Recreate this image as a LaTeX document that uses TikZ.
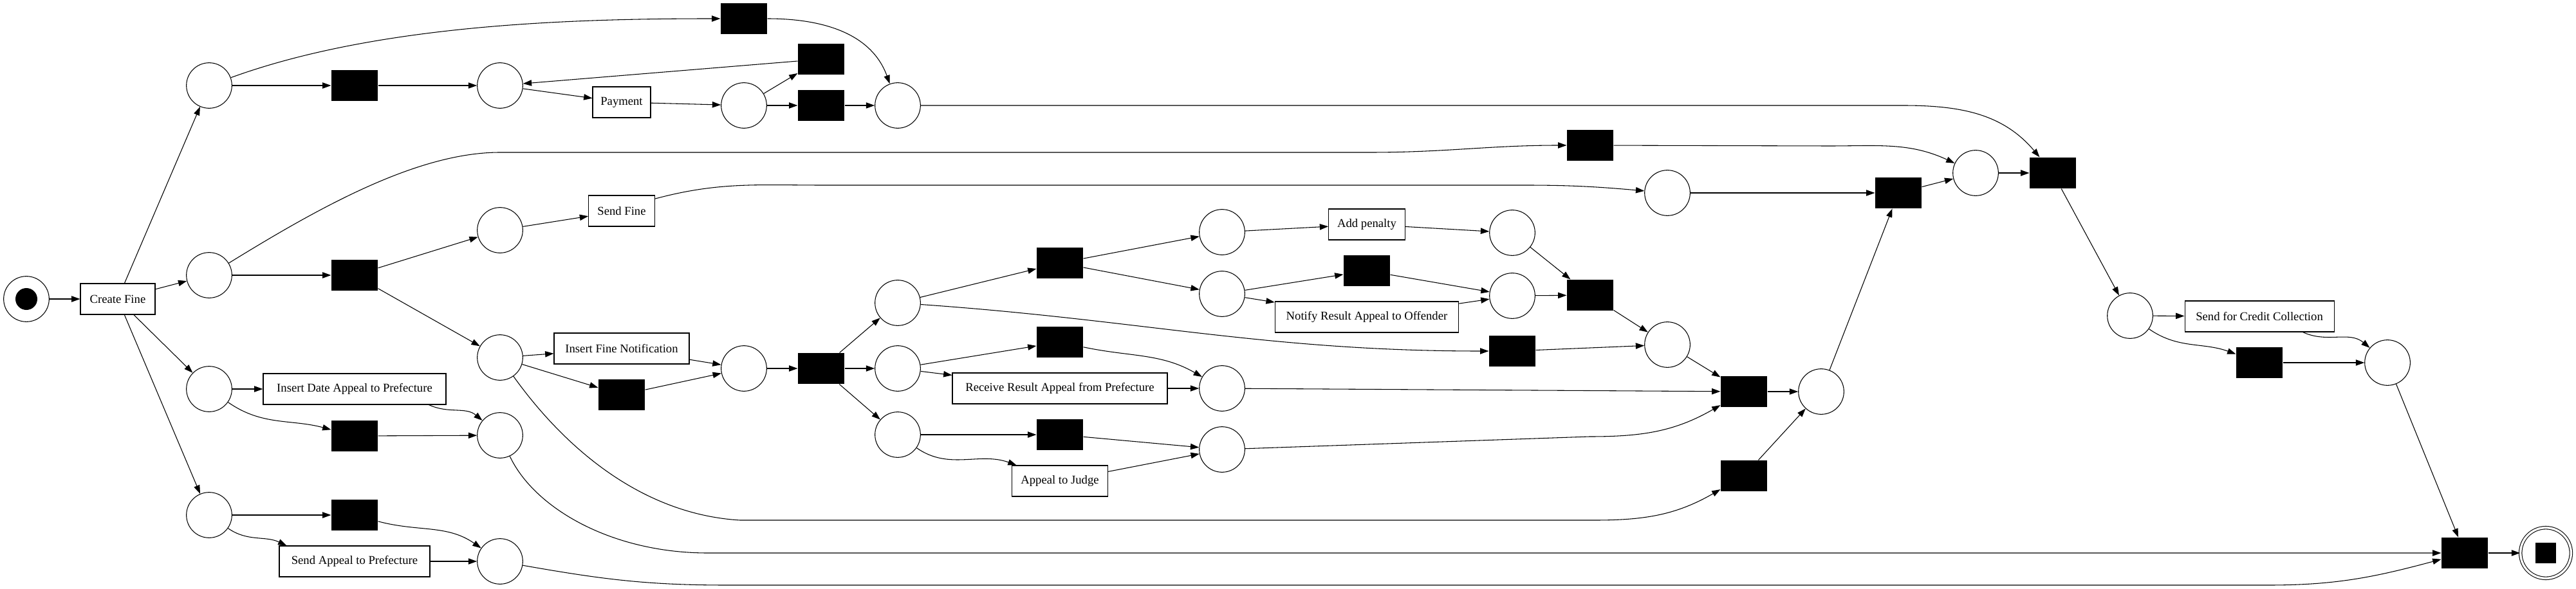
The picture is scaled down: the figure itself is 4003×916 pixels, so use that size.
\documentclass[tikz,border=0pt]{standalone}
\usepackage{fontspec}
\setmainfont{Liberation Serif}
\usetikzlibrary{arrows.meta}

\begin{document}
\begin{tikzpicture}[
    x=0.75pt, y=0.75pt,
    line width=0.8pt,
    font=\fontsize{14pt}{16pt}\selectfont,
    place/.style={circle, draw, minimum size=53pt, inner sep=0pt},
    startplace/.style={place, path picture={\fill (path picture bounding box.center) circle (12.75pt);}},
    endplace/.style={circle, draw, double, double distance=2.5pt, minimum size=59pt, inner sep=0pt,
        path picture={\fill (path picture bounding box.center) ++(-12pt,-12pt) rectangle ++(24pt,24pt);}},
    silent/.style={rectangle, fill=black, minimum width=54pt, minimum height=36pt, inner sep=0pt},
    task/.style={rectangle, draw, minimum height=36pt, inner sep=0pt},
    arrow/.style={-{Triangle[length=10pt,width=7pt]}}
]
\useasboundingbox (0,0) rectangle (4003,-916);

% Start and end
\node[startplace] (start) at (41,-465) {};
\node[endplace] (end) at (3956,-860) {};

% Tasks
\node[task, minimum width=87pt] (create_fine) at (183,-465) {Create Fine};
\node[task, minimum width=67.5pt] (payment) at (966,-159) {Payment};
\node[task, minimum width=77pt] (send_fine) at (966,-328) {Send Fine};
\node[task, minimum width=157.5pt] (insert_notification) at (966,-542) {Insert Fine Notification};
\node[task, minimum width=213pt] (insert_date) at (551,-605) {Insert Date Appeal to Prefecture};
\node[task, minimum width=175.5pt] (send_appeal) at (551,-873) {Send Appeal to Prefecture};
\node[task, minimum width=250.5pt] (receive_result) at (1647,-604) {Receive Result Appeal from Prefecture};
\node[task, minimum width=112pt] (appeal_judge) at (1647,-748) {Appeal to Judge};
\node[task, minimum width=89pt] (add_penalty) at (2124,-349) {Add penalty};
\node[task, minimum width=214pt] (notify_result) at (2124,-493) {Notify Result Appeal to Offender};
\node[task, minimum width=174pt] (credit_collection) at (3511,-492) {Send for Credit Collection};

% Places
\node[place] (p1) at (325,-133) {};
\node[place] (p2) at (325,-428) {};
\node[place] (p3) at (325,-605) {};
\node[place] (p4) at (325,-801) {};
\node[place] (p5) at (777,-133) {};
\node[place] (p6) at (777,-358) {};
\node[place] (p7) at (777,-556) {};
\node[place] (p8) at (777,-677) {};
\node[place] (p9) at (777,-873) {};
\node[place] (p10) at (1156,-164) {};
\node[place] (p11) at (1156,-573) {};
\node[place] (p12) at (1395,-164) {};
\node[place] (p13) at (1395,-471) {};
\node[place] (p14) at (1395,-573) {};
\node[place] (p15) at (1395,-676) {};
\node[place] (p16) at (1899,-361) {};
\node[place] (p17) at (1899,-457) {};
\node[place] (p18) at (1899,-604) {};
\node[place] (p19) at (1899,-699) {};
\node[place] (p20) at (2350,-362) {};
\node[place] (p21) at (2350,-460) {};
\node[place] (p22) at (2591,-300) {};
\node[place] (p23) at (2591,-536) {};
\node[place] (p24) at (2830,-609) {};
\node[place] (p25) at (3070,-269) {};
\node[place] (p26) at (3310,-491) {};
\node[place] (p27) at (3710,-564) {};

% Silent transitions
\node[silent] (tau1) at (551,-133) {};
\node[silent] (tau2) at (551,-428) {};
\node[silent] (tau3) at (551,-678) {};
\node[silent] (tau4) at (551,-801) {};
\node[silent] (tau5) at (966,-614) {};
\node[silent] (tau6) at (1156,-29) {};
\node[silent] (tau7) at (1276,-92) {};
\node[silent] (tau8) at (1276,-164) {};
\node[silent] (tau9) at (1276,-573) {};
\node[silent] (tau10) at (1647,-409) {};
\node[silent] (tau11) at (1647,-532) {};
\node[silent] (tau12) at (1647,-676) {};
\node[silent] (tau13) at (2124,-421) {};
\node[silent] (tau14) at (2350,-546) {};
\node[silent] (tau15) at (2471,-226) {};
\node[silent] (tau16) at (2471,-459) {};
\node[silent] (tau17) at (2710,-609) {};
\node[silent] (tau18) at (2710,-740) {};
\node[silent] (tau19) at (2950,-300) {};
\node[silent] (tau20) at (3190,-269) {};
\node[silent] (tau21) at (3511,-564) {};
\node[silent] (tau22) at (3830,-860) {};

% Arrows - Create Fine
\draw[arrow] (start) -- (create_fine);
\draw[arrow] (create_fine) -- (p1);
\draw[arrow] (create_fine) -- (p2);
\draw[arrow] (create_fine) -- (p3);
\draw[arrow] (create_fine) -- (p4);

% Arrows - Payment branch
\draw[arrow] (p1) -- (tau1);
\draw[arrow] (tau1) -- (p5);
\draw[arrow] (p1) to[out=20,in=180,looseness=0.8] (tau6);
\draw[arrow] (tau6) to[out=0,in=110] (p12);
\draw[arrow] (p5) -- (payment);
\draw[arrow] (payment) -- (p10);
\draw[arrow] (p10) -- (tau7);
\draw[arrow] (tau7) -- (p5);
\draw[arrow] (p10) -- (tau8);
\draw[arrow] (tau8) -- (p12);
\draw[arrow] (p12) -- (2957,-164) to[out=0,in=130] (tau20);

% Arrows - Send Fine branch
\draw[arrow] (p2) -- (tau2);
\draw[arrow] (tau2) -- (p6);
\draw[arrow] (tau2) -- (p7);
\draw[arrow] (p2) .. controls (500,-320) and (650,-237) .. (777,-237) -- (2128,-237) to[out=0,in=180] (tau15);
\draw[arrow] (p6) -- (send_fine);
\draw[arrow] (send_fine.20) to[out=15,in=180] (1280,-288) -- (2370,-288) to[out=0,in=175] (p22);
\draw[arrow] (p7) -- (insert_notification);
\draw[arrow] (p7) -- (tau5);
\draw[arrow] (insert_notification) -- (p11);
\draw[arrow] (tau5) -- (p11);
\draw[arrow] (p7) .. controls (880,-700) and (1000,-800) .. (1150,-809) -- (2478,-809) to[out=0,in=210] (tau18);

% Arrows - Appeal to Prefecture
\draw[arrow] (p3) -- (insert_date);
\draw[arrow] (p3) to[out=-35,in=165] (tau3);
\draw[arrow] (insert_date.-12) to[out=-25,in=140] (p8);
\draw[arrow] (tau3) -- (p8);
\draw[arrow] (p8) .. controls (830,-790) and (950,-860) .. (1100,-860) -- (tau22);
\draw[arrow] (p4) -- (tau4);
\draw[arrow] (p4) to[out=-35,in=155] ([xshift=9pt]send_appeal.north west);
\draw[arrow] (tau4) to[out=-15,in=145] (p9);
\draw[arrow] (send_appeal) -- (p9);
\draw[arrow] (p9) to[out=-10,in=180] (1130,-910) -- (3525,-910) to[out=0,in=195] (tau22);

% Arrows - Appeal results
\draw[arrow] (p11) -- (tau9);
\draw[arrow] (tau9) -- (p13);
\draw[arrow] (tau9) -- (p14);
\draw[arrow] (tau9) -- (p15);
\draw[arrow] (p13) -- (tau10);
\draw[arrow] (p13) to[out=-4,in=180] (tau14);
\draw[arrow] (tau10) -- (p16);
\draw[arrow] (tau10) -- (p17);
\draw[arrow] (p14) -- (tau11);
\draw[arrow] (p14) -- (receive_result);
\draw[arrow] (tau11) to[out=-12,in=150] (p18);
\draw[arrow] (receive_result) -- (p18);
\draw[arrow] (p15) -- (tau12);
\draw[arrow] (p15) to[out=-35,in=160] (appeal_judge);
\draw[arrow] (tau12) -- (p19);
\draw[arrow] (appeal_judge) -- (p19);

% Arrows - Penalty and notification
\draw[arrow] (p16) -- (add_penalty);
\draw[arrow] (add_penalty) -- (p20);
\draw[arrow] (p17) -- (tau13);
\draw[arrow] (p17) -- (notify_result);
\draw[arrow] (tau13) -- (p21);
\draw[arrow] (notify_result) -- (p21);
\draw[arrow] (p20) -- (tau16);
\draw[arrow] (p21) -- (tau16);
\draw[arrow] (tau16) -- (p23);
\draw[arrow] (tau14) -- (p23);
\draw[arrow] (p23) -- (tau17);
\draw[arrow] (p18) -- (tau17);
\draw[arrow] (p19) -- (2470,-679) to[out=0,in=210] (tau17);
\draw[arrow] (tau17) -- (p24);
\draw[arrow] (tau18) -- (p24);

% Arrows - Credit collection
\draw[arrow] (p24) -- (tau19);
\draw[arrow] (p22) -- (tau19);
\draw[arrow] (tau19) -- (p25);
\draw[arrow] (tau15) -- (2842,-227) to[out=0,in=155] (p25);
\draw[arrow] (p25) -- (tau20);
\draw[arrow] (tau20) -- (p26);
\draw[arrow] (p26) -- (credit_collection);
\draw[arrow] (p26) to[out=-35,in=160] (tau21);
\draw[arrow] (credit_collection.-20) to[out=-25,in=140] (p27);
\draw[arrow] (tau21) -- (p27);
\draw[arrow] (p27) -- (tau22);
\draw[arrow] (tau22) -- (end);

\end{tikzpicture}
\end{document}
